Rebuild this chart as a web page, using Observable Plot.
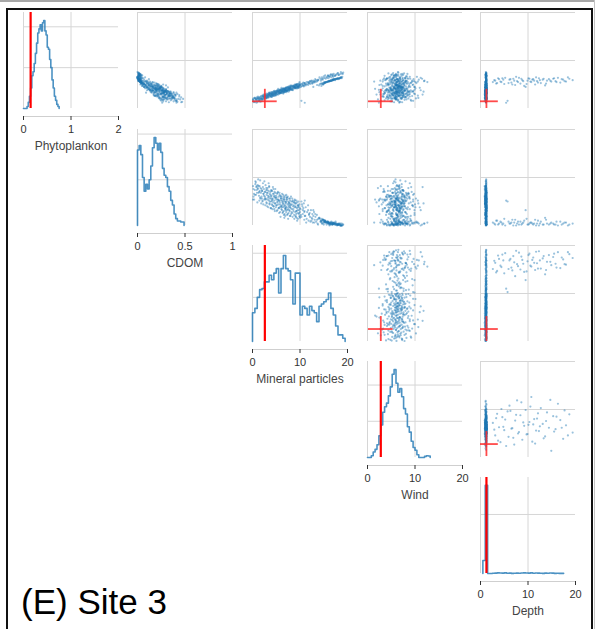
<!DOCTYPE html>
<html>
<head>
<meta charset="utf-8">
<script src="https://cdn.jsdelivr.net/npm/d3@7"></script>
<script src="https://cdn.jsdelivr.net/npm/@observablehq/plot@0.6"></script>
<style>
  html, body { margin: 0; padding: 0; background: #fff; }
  #fig { position: relative; width: 596px; height: 629px; overflow: hidden; background: #fff;
         font-family: "Liberation Sans", Arial, Helvetica, sans-serif; }
  .line { position: absolute; }
  #title { position: absolute; left: 21px; top: 584px; font-size: 35px; line-height: 35px; color: #000; white-space: nowrap; }
</style>
</head>
<body>
<div id="fig">
  <div class="line" style="left:0;top:0;width:594px;height:2px;background:#a8a8a8"></div>
  <div class="line" style="left:594px;top:0;width:1px;height:629px;background:#c4c4c4"></div>
  <div class="line" style="left:6px;top:8px;width:587px;height:2px;background:#111"></div>
  <div class="line" style="left:6px;top:8px;width:2px;height:621px;background:#111"></div>
  <div class="line" style="left:591px;top:8px;width:2px;height:621px;background:#111"></div>
  <div id="title">(E) Site 3</div>
</div>
<script>
// ---- variables of the pair plot ----
const names = ["Phytoplankon", "CDOM", "Mineral particles", "Wind", "Depth"];
const axisMax = [2, 1, 20, 20, 20];
const axisTicks = [[0, 1, 2], [0, 0.5, 1], [0, 10, 20], [0, 10, 20], [0, 10, 20]];

// site 3 value (red) and its uncertainty; no CDOM value for this site
const siteValue = [0.15, null, 2.6, 2.8, 1.25];
const siteError = [0.25, null, 2.6, 2.6, 2.5];

// ---- diagonal histograms: first bin edge, bin width, counts ----
const histStart = [0, 0, 0, 0, 0.5];
const histWidth = [0.025, 0.0175, 0.5, 0.4, 0.5];
const histTop = [47, 42, 43.5, 53, 813];
const histGrid = [[20, 40], [20, 40], [20, 40], [20, 40], [500]];

const phytoCounts = [0, 0, 0, 1, 3, 6, 10, 16, 18, 22, 27, 32, 37, 39, 41, 38, 42, 43, 38, 36,
  30, 29, 24, 20, 14, 10, 6, 4, 2, 1];
const cdomCounts = [33, 35, 31, 21, 15, 18, 16, 20, 26, 34, 38.5, 36, 33, 36, 32, 25, 22, 21, 17, 15,
  11, 9, 5, 3, 2, 2, 1.5, 1.5];
const mineralCounts = [13, 15, 20, 23.5, 24, 27, 27, 30, 28, 31, 33, 22, 33, 39, 33, 32, 28, 17, 31, 31,
  12, 16, 15, 12, 16, 14, 13, 9, 16, 17, 18, 19, 22, 15, 12, 7, 3, 3, 1.5];
const windCounts = [0, 0, 1, 3, 4.5, 7, 12, 18, 25, 28, 30, 34, 39, 46, 48.5, 41, 36, 38, 33.5, 27,
  24, 17, 14, 9, 5.5, 4, 1.5, 0, 0, 0, 0.6, 1, 0.8];
const depthCounts = [110, 746, 0, 0, 2, 3, 5, 4, 3, 5, 2, 3, 1, 2, 3, 2, 4, 5, 4, 3,
  5, 2, 4, 3, 2, 1, 3, 2, 4, 3, 1, 2, 1, 1];
const histCounts = [phytoCounts, cdomCounts, mineralCounts, windCounts, depthCounts];

// ---- samples (one observation per index, same index across arrays) ----
const phyto = [
  0.19,0.15,0.22,0.13,0.19,0.21,0.12,0.21,0.18,0.25,0.16,0.23,0.21,0.19,0.14,0.21,0.26,0.21,0.24,0.19,0.22,
  0.27,0.20,0.26,0.23,0.29,0.22,0.25,0.28,0.21,0.26,0.30,0.24,0.27,0.22,0.28,
  0.31,0.25,0.29,0.24,0.30,0.27,0.23,0.32,0.28,0.25,0.31,0.27,0.33,0.26,0.29,0.24,0.30,
  0.33,0.27,0.31,0.28,0.34,0.26,0.30,0.32,0.29,0.35,0.27,0.31,0.33,0.28,0.36,0.30,0.27,0.32,0.34,
  0.36,0.30,0.34,0.38,0.31,0.35,0.29,0.37,0.33,0.36,0.31,0.38,0.34,0.32,0.39,0.35,
  0.38,0.33,0.40,0.36,0.34,0.41,0.37,0.32,0.39,0.36,0.42,0.35,0.38,0.40,0.34,0.41,0.37,0.39,0.35,0.42,0.38,
  0.41,0.37,0.43,0.39,0.36,0.44,0.40,0.38,0.42,0.45,0.39,0.41,0.37,0.44,0.40,0.43,0.38,0.42,0.46,
  0.44,0.40,0.46,0.42,0.39,0.47,0.43,0.41,0.45,0.48,0.42,0.44,0.46,
  0.47,0.43,0.49,0.45,0.42,0.50,0.46,0.44,0.48,0.51,0.45,0.47,0.43,0.50,0.46,0.48,0.44,0.49,0.52,
  0.50,0.47,0.52,0.49,0.46,0.53,0.50,0.52,0.48,0.55,0.51,0.49,0.54,0.52,0.56,0.51,0.54,0.57,0.53,0.55,
  0.58,0.54,0.57,0.55,0.59,0.56,0.58,0.60,
  0.62,0.60,0.64,0.66,0.63,0.67,0.65,0.69,0.68,0.71,0.70,0.73,0.65,0.67,0.62,0.69,0.66,0.71,0.68,0.72,0.70,0.74,0.72,0.75,
  0.55,0.58,0.53,0.61,0.56,0.63,0.51,0.12,0.16,0.60,0.54,0.62,0.49,0.57,0.64,0.52,0.59,0.47,0.45,0.58,
  0.62,0.55,0.61,0.50,0.57,0.63,0.53,0.60,0.48,0.58,0.61,0.56,0.62,0.57,0.64,0.54,0.60,0.56,0.62,0.59,
  0.31,0.40,0.17,0.57,0.34,0.35,0.70,0.20,0.49,0.36,0.21,0.39,0.63,0.54,0.26,0.43,0.45,0.13,0.73,0.28,
  0.47,0.25,0.50,0.29,0.52,0.15,0.38,0.64,0.33,0.41,0.24,0.61,0.35,0.23,0.42,0.44,0.29,0.33,0.76,0.37,
  0.45,0.20,0.38,0.40,0.22,0.58,0.35,0.41,0.18,0.44,0.30,0.52,0.37,0.19,0.48,0.66,0.32,0.28,0.42,0.48,
  0.24,0.31,0.55,0.29,0.69,0.46,0.21,0.36,0.55,0.39,0.27,0.59,0.32,0.16,0.47,0.33,0.43,0.67,0.26,0.34,
  0.50,0.23,0.42,0.51,0.14,0.37,0.26,0.72,0.38,0.44,0.23,0.58,0.39,0.30,0.42,0.45,0.22,0.35,0.65,0.39,
  0.32,0.36,0.49,0.19,0.41,0.68,0.37,0.27,0.44,0.40,0.18,0.53,0.38,0.34,0.68,0.47,0.15,0.31,0.51,0.25,
  0.36,0.56,0.40,0.21,0.30,0.45,0.71,0.40,0.24,0.46,0.34,0.29,0.53,0.41,0.19,0.43,0.27,0.70,0.38,0.43,
  0.27,0.47,0.35,0.50,0.34,0.61,0.39,0.16,0.33,0.47,
  0.59,0.52,0.63,0.55,0.60,0.64,0.53,0.61,0.50,0.58,0.66,0.55,0.62,0.57,0.51,0.63,0.56,0.60,0.58,0.65,
  0.54,0.59,0.62,0.52,0.58,0.63,0.55,0.61,0.57,0.65
];
const cdom = [
  0.41,0.27,0.37,0.46,0.32,0.30,0.41,0.34,0.24,0.38,0.41,0.31,0.26,0.36,0.47,0.28,0.34,0.23,0.38,0.28,0.39,
  0.36,0.25,0.40,0.22,0.33,0.38,0.27,0.35,0.30,0.21,0.42,0.28,0.37,0.24,0.32,
  0.34,0.20,0.39,0.27,0.31,0.19,0.36,0.26,0.40,0.23,0.33,0.28,0.35,0.18,0.30,0.37,0.25,
  0.31,0.22,0.36,0.17,0.28,0.33,0.24,0.38,0.20,0.30,0.26,0.35,0.15,0.29,0.23,0.34,0.19,0.31,0.27,
  0.29,0.21,0.33,0.16,0.27,0.35,0.22,0.30,0.18,0.26,0.34,0.24,0.14,0.31,0.20,0.28,
  0.26,0.17,0.30,0.21,0.33,0.24,0.13,0.28,0.19,0.32,0.22,0.15,0.27,0.20,0.29,0.12,0.25,0.18,0.31,0.23,0.16,
  0.24,0.14,0.27,0.19,0.29,0.11,0.22,0.30,0.17,0.25,0.13,0.21,0.28,0.16,0.23,0.10,0.26,0.19,0.22,
  0.21,0.12,0.25,0.17,0.28,0.09,0.20,0.15,0.24,0.11,0.19,0.26,0.14,
  0.20,0.10,0.23,0.15,0.26,0.08,0.18,0.24,0.13,0.21,0.07,0.19,0.25,0.12,0.16,0.22,0.09,0.18,0.14,
  0.17,0.09,0.20,0.12,0.23,0.06,0.15,0.10,0.19,0.07,0.14,0.21,0.05,0.11,0.13,0.04,0.16,0.08,0.12,0.03,
  0.10,0.14,0.06,0.09,0.04,0.11,0.02,0.07,
  0.04,0.02,0.05,0.01,0.03,0.02,0.04,0.01,0.03,0.02,0.01,0.02,0.03,0.01,0.04,0.02,0.00,0.03,0.01,0.02,0.04,0.01,0.02,0.01,
  0.03,0.01,0.05,0.02,0.04,0.01,0.07,0.26,0.25,0.02,0.03,0.00,0.06,0.02,0.01,0.04,0.02,0.05,0.16,0.01,
  0.02,0.03,0.01,0.06,0.02,0.00,0.04,0.01,0.08,0.02,0.01,0.03,0.02,0.01,0.00,0.04,0.02,0.03,0.01,0.02,
  0.25,0.22,0.35,0.09,0.30,0.20,0.02,0.43,0.12,0.27,0.39,0.13,0.06,0.18,0.34,0.19,0.07,0.33,0.01,0.29,
  0.15,0.44,0.03,0.24,0.20,0.30,0.10,0.03,0.41,0.18,0.26,0.12,0.23,0.37,0.16,0.32,0.28,0.09,0.00,0.31,
  0.11,0.48,0.26,0.21,0.23,0.04,0.19,0.27,0.27,0.23,0.36,0.07,0.16,0.31,0.30,0.03,0.21,0.44,0.12,0.14,
  0.29,0.25,0.10,0.40,0.05,0.17,0.36,0.32,0.16,0.20,0.18,0.01,0.28,0.40,0.05,0.23,0.24,0.02,0.35,0.18,
  0.27,0.29,0.08,0.22,0.42,0.29,0.33,0.01,0.22,0.13,0.46,0.05,0.26,0.22,0.19,0.07,0.32,0.34,0.08,0.14,
  0.27,0.17,0.08,0.39,0.28,0.02,0.15,0.37,0.21,0.11,0.26,0.10,0.16,0.38,0.04,0.21,0.38,0.26,0.15,0.32,
  0.20,0.03,0.23,0.34,0.17,0.10,0.03,0.30,0.27,0.13,0.25,0.30,0.12,0.14,0.45,0.24,0.21,0.02,0.25,0.18,
  0.33,0.16,0.27,0.09,0.28,0.02,0.20,0.41,0.19,0.25,
  0.02,0.05,0.01,0.03,0.02,0.00,0.04,0.02,0.06,0.03,0.00,0.04,0.01,0.03,0.07,0.01,0.03,0.02,0.02,0.00,
  0.05,0.02,0.01,0.06,0.02,0.01,0.04,0.01,0.03,0.00
];
const mineral = [
  0.12,0.35,0.48,0.61,0.74,0.22,0.88,0.95,1.02,1.15,1.28,1.36,1.44,1.53,1.61,1.69,1.77,1.84,1.91,1.97,1.08,
  2.04,2.11,2.19,2.27,2.33,2.41,2.48,2.56,2.62,2.69,2.75,2.81,2.88,2.93,2.98,
  3.03,3.09,3.15,3.21,3.27,3.33,3.39,3.45,3.51,3.57,3.63,3.69,3.75,3.81,3.87,3.92,3.97,
  4.02,4.08,4.13,4.19,4.24,4.30,4.36,4.41,4.47,4.52,4.58,4.63,4.69,4.74,4.80,4.85,4.90,4.95,4.99,
  5.04,5.10,5.17,5.23,5.29,5.36,5.42,5.48,5.55,5.61,5.68,5.74,5.80,5.87,5.93,5.98,
  6.03,6.08,6.13,6.18,6.23,6.28,6.33,6.38,6.43,6.48,6.53,6.58,6.63,6.68,6.73,6.78,6.83,6.88,6.92,6.96,6.99,
  7.04,7.09,7.15,7.20,7.26,7.31,7.37,7.42,7.48,7.53,7.59,7.64,7.70,7.75,7.81,7.86,7.91,7.95,7.99,
  8.05,8.13,8.21,8.29,8.37,8.45,8.53,8.61,8.69,8.77,8.85,8.92,8.98,
  9.03,9.08,9.14,9.19,9.25,9.30,9.36,9.41,9.47,9.52,9.58,9.63,9.69,9.74,9.80,9.85,9.90,9.94,9.98,
  10.1,10.3,10.5,10.6,10.8,10.9,10.95,11.1,11.2,11.4,11.5,11.7,11.8,11.9,12.05,12.2,12.3,12.45,12.6,12.7,
  12.8,12.95,13.1,13.25,13.4,13.55,13.7,13.85,
  14.3,14.8,15.2,15.6,16.0,16.3,16.6,16.9,17.3,17.7,18.2,18.8,14.6,15.0,15.4,15.9,16.2,16.5,16.8,17.1,17.5,18.0,18.5,19.1,
  15.1,16.4,14.7,17.2,15.8,18.1,14.2,11.0,10.3,16.9,15.4,17.8,13.6,16.1,18.5,15.0,17.0,14.5,12.8,16.7,
  18.3,15.6,17.5,14.9,16.3,18.8,15.2,17.3,14.0,16.6,18.0,15.9,17.6,16.2,18.6,15.3,17.1,16.0,18.2,17.4,
  3.7,8.3,1.4,12.1,6.6,4.4,16.4,0.6,9.2,7.3,2.9,5.6,14.9,10.7,3.2,6.1,8.8,0.3,17.9,4.9,
  7.8,2.2,11.3,5.2,9.7,1.9,6.9,15.7,3.5,8.0,4.1,13.2,6.4,0.9,9.5,7.1,2.6,5.9,18.6,4.6,
  10.2,1.2,8.5,6.8,3.0,14.4,7.6,5.4,0.1,9.0,4.0,12.6,6.2,2.4,8.1,17.0,5.0,3.4,7.4,10.9,
  1.6,6.5,9.9,4.3,15.3,8.6,2.0,5.7,11.7,7.0,3.9,13.8,6.0,0.8,9.4,4.7,7.7,16.0,2.7,5.5,
  8.9,3.3,6.7,10.4,1.1,7.2,4.5,19.0,5.8,8.4,2.5,12.4,6.3,3.6,9.1,7.5,0.5,5.3,14.1,8.2,
  4.2,6.9,10.0,1.7,7.9,17.4,5.1,3.1,9.6,6.6,2.1,11.0,7.3,4.8,15.9,8.7,0.2,5.6,9.3,3.8,
  6.1,13.0,7.6,1.3,4.6,8.0,16.8,5.9,2.8,9.8,7.1,3.5,11.9,6.4,0.7,8.8,4.2,18.1,5.3,7.0,
  2.3,10.6,6.7,9.1,4.0,14.6,7.8,1.5,5.7,8.4,
  16.8,14.4,17.9,15.5,16.9,18.4,15.1,17.2,14.8,16.5,18.9,15.7,17.7,16.2,14.6,18.0,15.8,17.0,16.4,18.7,
  15.2,16.9,17.8,14.9,16.6,18.3,15.4,17.5,16.1,18.6
];
const wind = [
  6.1,4.8,7.3,5.6,8.2,3.9,6.7,5.2,9.1,6.4,2.8,7.8,5.9,4.3,6.9,10.2,5.4,7.1,3.4,6.3,5.75,
  7.6,5.1,6.6,4.4,8.7,6.0,3.1,7.0,5.5,9.4,6.2,4.9,7.4,5.8,6.5,
  5.3,7.9,6.8,4.1,8.4,5.7,6.9,3.6,7.2,6.1,9.8,5.0,6.4,4.6,7.7,5.9,8.0,
  6.3,4.7,7.5,5.4,8.9,6.0,3.3,6.7,5.2,7.3,10.6,5.8,6.6,4.2,7.0,6.2,8.5,5.6,2.5,
  6.8,5.1,7.4,4.5,6.1,9.3,5.9,7.8,3.7,6.5,8.1,5.3,6.9,4.9,7.2,6.0,
  5.5,7.6,6.3,4.0,8.6,6.7,5.2,7.1,6.0,9.6,5.7,6.4,3.8,7.3,6.2,8.3,5.0,6.9,4.6,7.7,6.1,
  5.8,7.9,6.5,4.4,8.8,6.2,5.4,7.2,3.2,6.8,9.9,5.9,6.6,7.5,4.8,6.3,8.0,5.6,7.0,
  6.4,5.0,7.7,6.0,8.4,5.3,6.9,4.1,7.4,6.1,10.1,5.7,6.6,
  6.7,4.9,7.8,5.5,8.2,6.3,3.6,7.1,6.0,5.2,9.0,6.5,7.4,4.5,6.8,5.8,8.6,6.2,7.3,
  6.4,5.1,7.6,6.0,8.7,5.6,4.3,6.9,7.2,5.4,6.6,9.5,6.1,3.9,7.0,5.9,6.7,8.0,5.3,6.3,
  7.5,4.7,6.5,7.9,5.7,6.2,8.3,6.0,
  6.6,5.2,7.4,6.1,4.4,8.1,6.8,5.6,7.2,6.4,5.0,7.7,6.9,5.5,7.9,6.2,4.8,7.0,5.9,8.4,6.0,5.4,7.3,6.5,
  7.2,4.6,9.1,6.3,3.2,8.4,5.7,2.4,9.6,10.8,6.0,4.1,7.7,11.9,5.3,8.8,3.7,6.6,9.9,4.9,
  7.4,12.6,6.9,2.9,8.1,5.5,10.3,7.0,4.4,9.4,6.2,1.4,8.6,5.9,11.2,7.8,3.9,6.7,9.0,5.2,
  5.7,7.6,3.6,6.5,4.6,9.6,5.9,7.2,2.5,6.2,8.6,5.1,4.1,8.1,6.7,11.0,5.6,7.3,4.4,6.4,
  3.2,8.9,7.0,1.9,6.0,5.2,9.1,8.0,4.3,6.8,7.5,4.8,11.8,6.2,5.4,7.3,2.7,8.3,6.4,4.9,
  9.9,5.9,3.8,6.5,10.7,6.8,5.7,1.6,7.8,7.2,3.5,8.4,4.4,6.0,8.8,10.4,6.7,5.4,6.4,4.0,
  8.1,5.9,5.1,11.6,5.6,7.0,4.8,7.6,6.2,2.4,6.8,7.5,5.2,9.2,6.5,7.3,4.6,8.3,3.3,6.2,
  9.6,5.7,7.0,4.3,6.7,7.8,5.9,6.0,3.0,7.3,8.0,5.6,6.4,10.0,4.9,6.7,4.4,8.6,5.9,4.1,
  7.2,8.4,6.2,2.2,6.0,3.6,6.8,7.5,4.8,7.2,6.5,7.6,11.2,5.4,6.5,5.9,5.1,7.5,6.7,4.1,
  6.0,9.4,4.9,7.0,8.9,6.4,5.2,4.0,7.3,8.1,5.9,4.6,6.8,8.0,5.9,5.7,6.5,7.5,5.2,7.2,
  8.3,6.2,3.5,7.3,6.0,5.1,7.8,6.4,5.6,6.8,
  5.8,8.2,3.5,10.1,6.4,7.9,4.3,9.7,6.1,2.7,8.9,5.0,11.5,7.3,4.8,6.8,10.6,3.3,8.0,5.6,
  9.2,6.5,4.0,7.6,12.0,5.4,8.5,6.2,9.8,4.6
];
const depth = [
  1.12,1.21,0.93,1.18,1.26,1.05,1.15,1.31,1.09,1.22,0.88,1.14,1.27,1.03,1.19,1.11,1.24,0.97,1.16,1.29,1.07,
  1.13,1.20,1.02,1.25,1.17,0.91,1.10,1.28,1.06,1.23,1.15,0.99,1.19,1.30,1.08,
  1.14,1.21,1.04,1.26,1.12,0.95,1.18,1.24,1.09,1.16,1.01,1.27,1.13,1.20,0.89,1.23,1.10,
  1.17,1.05,1.25,1.12,0.98,1.19,1.28,1.07,1.15,1.22,1.03,1.18,1.29,1.11,0.94,1.20,1.14,1.26,1.08,
  1.16,1.23,1.02,1.19,1.27,1.10,0.96,1.14,1.21,1.06,1.25,1.13,1.18,0.92,1.24,1.09,
  1.15,1.22,1.04,1.19,1.28,1.11,0.99,1.17,1.24,1.07,1.14,1.21,1.02,1.26,1.13,1.18,0.93,1.20,1.09,1.16,1.27,
  1.12,1.19,1.05,1.23,1.14,0.97,1.21,1.08,1.25,1.15,1.02,1.18,1.29,1.10,1.17,1.22,0.95,1.13,1.20,
  1.16,1.24,1.06,1.19,1.11,1.27,1.00,1.14,1.21,1.08,1.23,1.17,1.12,
  1.18,1.25,1.03,1.20,1.14,0.98,1.22,1.09,1.26,1.15,1.07,1.19,1.28,1.12,1.21,1.04,1.16,1.23,1.10,
  1.17,1.22,1.06,1.19,1.13,1.26,1.09,1.20,1.15,1.02,1.24,1.11,1.18,1.27,1.08,1.21,1.14,1.19,1.05,1.23,
  1.16,1.10,1.25,1.13,1.20,1.07,1.18,1.24,
  1.15,1.21,1.09,1.26,1.12,1.19,1.04,1.23,1.17,1.10,1.22,1.14,1.18,1.11,1.24,1.07,1.20,1.13,1.26,1.16,1.09,1.21,1.15,1.19,
  2.6,3.1,3.5,3.9,4.2,4.6,5.0,5.4,5.7,6.1,6.5,6.9,7.3,7.7,8.1,8.4,8.8,9.2,9.5,9.9,
  10.3,10.7,11.1,11.5,11.9,12.3,12.7,13.1,13.6,14.0,14.4,14.9,15.3,15.8,16.3,16.8,17.4,18.0,18.7,19.4,
  1.16,1.21,1.08,1.19,1.13,1.25,1.10,1.22,1.06,1.18,1.27,1.12,1.20,1.15,1.03,1.24,1.17,1.11,1.23,1.09,
  1.20,1.14,1.26,1.07,1.19,1.22,1.13,1.18,1.05,1.28,1.15,1.21,1.10,1.17,1.23,1.04,1.19,1.26,1.12,1.16,
  1.08,1.20,1.14,1.22,1.09,1.25,1.15,1.18,1.06,1.21,1.13,1.27,1.10,1.17,1.24,1.15,1.01,1.20,1.14,1.22,
  1.11,1.18,1.26,1.07,1.19,1.13,1.23,1.16,1.09,1.21,1.15,1.25,1.12,1.18,1.20,1.08,1.24,1.16,1.13,1.21,
  1.10,1.26,1.17,1.12,1.19,1.23,1.14,1.20,1.06,1.25,1.11,1.18,1.15,1.22,1.09,1.17,1.27,1.13,1.21,1.14,
  1.19,1.08,1.23,1.16,1.12,1.20,1.25,1.10,1.18,1.15,1.22,1.13,1.19,1.07,1.24,1.16,1.20,1.11,1.26,1.14,
  1.19,1.10,1.22,1.17,1.23,1.09,1.15,1.21,1.12,1.18,1.26,1.06,1.20,1.14,1.23,1.11,1.17,1.19,1.08,1.25,
  1.16,1.13,1.22,1.18,1.10,1.24,1.15,1.20,1.12,1.17,
  2.9,3.3,3.7,4.4,4.8,5.2,5.9,6.3,6.7,7.1,7.5,7.9,8.6,9.0,9.7,10.1,10.5,10.9,11.3,11.7,
  12.1,12.5,13.3,13.8,14.7,15.5,16.0,17.1,17.7,18.4
];

// ---- drawing ----
const vars = [phyto, cdom, mineral, wind, depth];
const n = d3.min(vars, v => v.length);
const samples = d3.range(n).map(i => vars.map(v => v[i]));

const blue = "#1f77b4";
const gridColor = "#d6d6d6";
const colLeft = [23.3, 137.3, 252.3, 366.7, 480];
const rowTop = [12, 128.5, 245, 361, 477];
const W = 95, H = 96, SIDE = 9, TOP = 2;
const fig = document.getElementById("fig");

const plotStyle = {
  fontFamily: "'Liberation Sans', Arial, Helvetica, sans-serif",
  fontSize: "11px",
  color: "#333",
  background: "transparent",
  overflow: "visible"
};

function place(svg, left, top) {
  svg.style.position = "absolute";
  svg.style.left = left + "px";
  svg.style.top = top + "px";
  svg.style.maxWidth = "none";
  fig.appendChild(svg);
}

function histogramPanel(k) {
  const counts = histCounts[k], x0 = histStart[k], bw = histWidth[k];
  const xMax = axisMax[k], yTop = histTop[k];
  // step outline of the histogram, closed down to the baseline at both ends
  const outline = [[x0, 0]];
  counts.forEach((c, i) => outline.push([x0 + i * bw, c], [x0 + (i + 1) * bw, c]));
  outline.push([x0 + counts.length * bw, 0]);

  const marks = [
    Plot.ruleX([0, xMax / 2], {y1: 0, y2: yTop, stroke: gridColor, strokeWidth: 1}),
    Plot.ruleY(histGrid[k], {x1: 0, x2: xMax, stroke: gridColor, strokeWidth: 1}),
    Plot.ruleY([0], {dy: 8, stroke: "#cfcfcf", strokeWidth: 1}),
    Plot.axisX(axisTicks[k], {tickSize: 4, tickPadding: 5, fontSize: 11, tickFormat: d => String(d), label: null}),
    Plot.line(outline, {x: d => d[0], y: d => d[1], stroke: blue, strokeWidth: 1.6, strokeOpacity: 0.8})
  ];
  if (siteValue[k] != null) {
    marks.push(Plot.ruleX([siteValue[k]], {y1: 0, y2: yTop, stroke: "#ff0000", strokeWidth: 2.2}));
  }
  marks.push(Plot.text([names[k]], {frameAnchor: "bottom", dy: 33, fontSize: 12, fill: "#444"}));

  const svg = Plot.plot({
    width: W + 2 * SIDE,
    height: TOP + H + 8 + 44,
    marginLeft: SIDE, marginRight: SIDE, marginTop: TOP, marginBottom: 44,
    style: plotStyle,
    x: {domain: [0, xMax]},
    y: {domain: [0, yTop], insetBottom: 8, axis: null},
    marks
  });
  place(svg, colLeft[k] - SIDE, rowTop[k] - TOP);
}

function scatterPanel(i, j) {
  const xMax = axisMax[j], yMax = axisMax[i];
  const marks = [
    Plot.ruleX([0, xMax / 2], {stroke: gridColor, strokeWidth: 1}),
    Plot.ruleY([yMax / 2, yMax], {stroke: gridColor, strokeWidth: 1}),
    Plot.dot(samples, {x: d => d[j], y: d => d[i], r: 1.1, fill: blue, fillOpacity: 0.45, stroke: "none"})
  ];
  if (siteValue[i] != null && siteValue[j] != null) {
    const cross = {stroke: "#ff2a2a", strokeOpacity: 0.85, strokeWidth: 1.8, clip: true};
    marks.push(
      Plot.ruleY([siteValue[i]], {x1: siteValue[j] - siteError[j], x2: siteValue[j] + siteError[j], ...cross}),
      Plot.ruleX([siteValue[j]], {y1: siteValue[i] - siteError[i], y2: siteValue[i] + siteError[i], ...cross})
    );
  }
  const svg = Plot.plot({
    width: W + 2 * SIDE,
    height: H + 2 * TOP,
    marginLeft: SIDE, marginRight: SIDE, marginTop: TOP, marginBottom: TOP,
    style: plotStyle,
    x: {domain: [0, xMax], axis: null},
    y: {domain: [0, yMax], axis: null},
    marks
  });
  place(svg, colLeft[j] - SIDE, rowTop[i] - TOP);
}

for (let i = 0; i < names.length; ++i) {
  histogramPanel(i);
  for (let j = i + 1; j < names.length; ++j) scatterPanel(i, j);
}
</script>
</body>
</html>
